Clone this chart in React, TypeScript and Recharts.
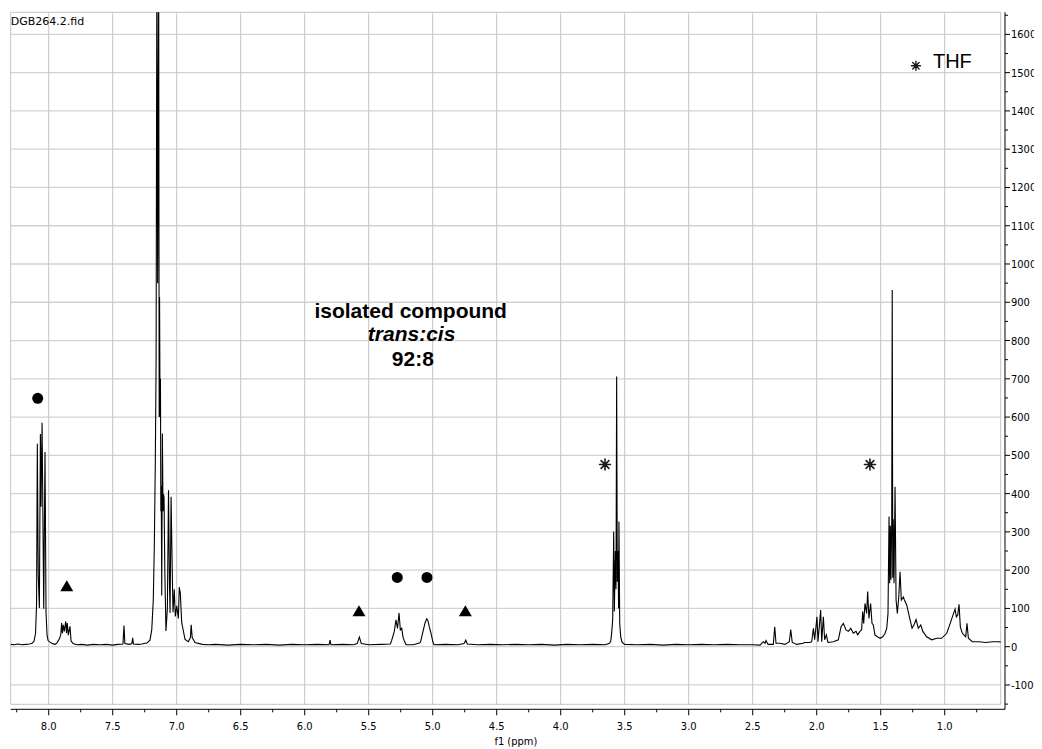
import React from 'react';
import { ComposedChart, Line, Scatter, XAxis, YAxis, ReferenceLine } from 'recharts';

// ---- spectrum (chemical shift in ppm, intensity) ----
const ppm = [
  8.297, 8.27, 8.24, 8.21, 8.18, 8.15, 8.13, 8.115, 8.103, 8.095, 8.089, 8.082, 8.073, 8.065, 8.06, 8.052, 8.039, 8.029, 8.021, 8.013,
  8.005, 7.99, 7.97, 7.95, 7.935, 7.918, 7.906, 7.899, 7.893, 7.886, 7.878, 7.867, 7.861, 7.855, 7.847, 7.834, 7.825, 7.81, 7.78, 7.74,
  7.7, 7.65, 7.6, 7.55, 7.5, 7.46, 7.42, 7.412, 7.405, 7.37, 7.35, 7.344, 7.338, 7.3, 7.27, 7.25, 7.234, 7.209, 7.195, 7.183,
  7.175, 7.167, 7.161, 7.155, 7.149, 7.141, 7.137, 7.134, 7.13, 7.127, 7.124, 7.121, 7.117, 7.112, 7.107, 7.103, 7.099, 7.093, 7.084, 7.073,
  7.064, 7.057, 7.052, 7.044, 7.035, 7.029, 7.019, 7.011, 7.0, 6.987, 6.98, 6.972, 6.961, 6.948, 6.935, 6.909, 6.893, 6.887, 6.879, 6.857,
  6.8, 6.75, 6.7, 6.6, 6.5, 6.4, 6.3, 6.2, 6.1, 6.0, 5.9, 5.81, 5.802, 5.795, 5.7, 5.62, 5.59, 5.573, 5.558, 5.5,
  5.4, 5.33, 5.32, 5.3, 5.287, 5.275, 5.263, 5.253, 5.242, 5.232, 5.224, 5.208, 5.15, 5.1, 5.094, 5.073, 5.06, 5.047, 5.039, 5.026,
  5.013, 5.0, 4.99, 4.9, 4.8, 4.755, 4.742, 4.73, 4.65, 4.55, 4.45, 4.35, 4.25, 4.15, 4.05, 3.95, 3.85, 3.75, 3.65, 3.62,
  3.609, 3.602, 3.594, 3.586, 3.581, 3.573, 3.568, 3.563, 3.558, 3.552, 3.548, 3.545, 3.539, 3.531, 3.521, 3.5, 3.4, 3.3, 3.2, 3.1,
  3.0, 2.9, 2.8, 2.7, 2.6, 2.5, 2.443, 2.417, 2.404, 2.396, 2.38, 2.339, 2.328, 2.318, 2.287, 2.248, 2.214, 2.203, 2.191, 2.156,
  2.105, 2.097, 2.052, 2.039, 2.026, 2.016, 1.998, 1.99, 1.969, 1.961, 1.948, 1.938, 1.925, 1.912, 1.87, 1.831, 1.81, 1.792, 1.771, 1.753,
  1.734, 1.714, 1.693, 1.68, 1.662, 1.649, 1.641, 1.633, 1.623, 1.61, 1.602, 1.592, 1.579, 1.568, 1.558, 1.545, 1.526, 1.505, 1.484, 1.466,
  1.453, 1.443, 1.435, 1.43, 1.425, 1.42, 1.414, 1.41, 1.406, 1.402, 1.396, 1.388, 1.38, 1.37, 1.359, 1.349, 1.339, 1.323, 1.315, 1.297,
  1.276, 1.255, 1.24, 1.224, 1.206, 1.187, 1.171, 1.141, 1.102, 1.063, 1.024, 0.984, 0.953, 0.935, 0.919, 0.909, 0.898, 0.888, 0.878, 0.862,
  0.836, 0.826, 0.815, 0.784, 0.732, 0.68, 0.628, 0.576, 0.5625,
];
const intensity = [
  6, 5, 7, 5, 6, 7, 9, 14, 35, 110, 530, 190, 101, 556, 366, 585, 99, 509, 90, 30,
  16, 12, 8, 6, 10, 20, 30, 62, 35, 57, 40, 66, 36, 62, 30, 53, 15, 8, 5, 6,
  4, 6, 5, 6, 4, 6, 7, 55, 8, 6, 8, 23, 7, 6, 7, 9, 9, 17, 44, 122,
  261, 488, 750, 1800, 950, 1800, 600, 914, 601, 700, 354, 420, 134, 557, 354, 398, 390, 200, 41, 100,
  409, 172, 88, 392, 200, 90, 150, 79, 107, 74, 156, 140, 63, 41, 19, 13, 24, 57, 24, 11,
  6, 5, 6, 4, 6, 5, 6, 4, 6, 5, 6, 5, 17, 5, 6, 5, 8, 25, 8, 5,
  6, 7, 17, 40, 70, 48, 88, 44, 48, 25, 17, 5, 5, 10, 14, 44, 62, 73, 70, 51,
  35, 14, 5, 6, 5, 8, 17, 7, 5, 6, 5, 6, 5, 6, 4, 6, 5, 6, 5, 9,
  14, 36, 70, 301, 92, 250, 150, 706, 170, 250, 100, 327, 60, 25, 12, 6, 5, 6, 4, 6,
  5, 6, 5, 6, 5, 5, 4, 13, 9, 16, 6, 6, 52, 9, 9, 6, 13, 45, 11, 6,
  9, 11, 11, 13, 48, 18, 78, 13, 96, 13, 78, 18, 31, 11, 13, 18, 52, 61, 44, 40,
  48, 35, 40, 31, 40, 44, 92, 61, 113, 87, 144, 74, 113, 61, 57, 31, 26, 22, 26, 35,
  48, 87, 340, 166, 316, 175, 325, 932, 180, 333, 166, 418, 122, 87, 130, 196, 122, 130, 122, 109,
  78, 48, 57, 71, 48, 57, 40, 26, 18, 22, 22, 35, 65, 83, 98, 78, 83, 111, 52, 35,
  26, 61, 22, 13, 13, 11, 13, 13, 12,
];
const spectrum = ppm.map((x, i) => ({ x, y: intensity[i] }));

// ---- axes ----
const xDomain = [0.529, 8.297];
const yDomain = [-163.6, 1657.7];
const frameX = [8.297, 0.5625];
const frameY = [-150.5, 1657.7];
const xTicks = [8.25, 8, 7.75, 7.5, 7.25, 7, 6.75, 6.5, 6.25, 6, 5.75, 5.5, 5.25, 5, 4.75, 4.5, 4.25, 4, 3.75, 3.5, 3.25, 3, 2.75, 2.5, 2.25, 2, 1.75, 1.5, 1.25, 1, 0.75];
const xMajor = [8, 7.5, 7, 6.5, 6, 5.5, 5, 4.5, 4, 3.5, 3, 2.5, 2, 1.5, 1];
const yTicks = [-150, -100, -50, 0, 50, 100, 150, 200, 250, 300, 350, 400, 450, 500, 550, 600, 650, 700, 750, 800, 850, 900, 950, 1000, 1050, 1100, 1150, 1200, 1250, 1300, 1350, 1400, 1450, 1500, 1550, 1600, 1650];
const yMajor = [-100, 0, 100, 200, 300, 400, 500, 600, 700, 800, 900, 1000, 1100, 1200, 1300, 1400, 1500, 1600];
const xAxisTitle = 'f1 (ppm)';

// ---- annotations ----
const circleMarks = [{ x: 8.086, y: 649 }, { x: 5.277, y: 181 }, { x: 5.045, y: 181 }];
const triangleMarks = [{ x: 7.859, y: 159 }, { x: 5.576, y: 94 }, { x: 4.745, y: 94 }];
const asteriskMarks = [{ x: 3.654, y: 476 }, { x: 1.584, y: 476 }];
const legendAsterisk = [{ x: 1.225, y: 1518 }];
const boldNotes = [{ x: 5.172, y: 860, label: 'isolated compound' }, { x: 5.155, y: 733, label: '92:8' }];
const italicNotes = [{ x: 5.165, y: 800, label: 'trans:cis' }];
const legendNotes = [{ x: 1.092, y: 1512, label: 'THF' }];
const fileNotes = [{ x: 8.297, y: 1624, label: 'DGB264.2.fid' }];

const TICK_FONT = '"DejaVu Sans Condensed", "DejaVu Sans", sans-serif';
const NOTE_FONT = '"Liberation Sans", Arial, sans-serif';

const XTick = (props: any) => {
  const { x, y, payload } = props;
  const v = payload.value;
  const major = xMajor.includes(v);
  return (
    <g>
      <line x1={x} x2={x} y1={y} y2={y + (major ? 6 : 3)} stroke="#000" strokeWidth={1} />
      {major && (
        <text x={x} y={y + 20.5} textAnchor="middle" fontFamily={TICK_FONT} fontSize={11} fill="#000">
          {v.toFixed(1)}
        </text>
      )}
    </g>
  );
};

const YTick = (props: any) => {
  const { x, y, payload } = props;
  const v = payload.value;
  const major = yMajor.includes(v);
  return (
    <g>
      <line x1={x} x2={x + (major ? 5 : 3)} y1={y} y2={y} stroke="#000" strokeWidth={1} />
      {major && (
        <text x={x + 6} y={y + 4} textAnchor="start" fontFamily={TICK_FONT} fontSize={11} fill="#000">
          {v}
        </text>
      )}
    </g>
  );
};

const XTitle = (props: any) => {
  const vb = props.viewBox || {};
  const cx = (vb.x || 0) + (vb.width || 0) / 2 + 8;
  const by = (vb.y || 0) + (vb.height || 0) - 4;
  return (
    <text x={cx} y={by} textAnchor="middle" fontFamily={TICK_FONT} fontSize={11} fill="#000">
      {xAxisTitle}
    </text>
  );
};

const starPath = (cx: number, cy: number, r: number) => {
  let d = '';
  for (let k = 0; k < 4; k++) {
    const a = (k * Math.PI) / 4;
    const dx = r * Math.cos(a);
    const dy = r * Math.sin(a);
    d += `M${cx - dx},${cy - dy}L${cx + dx},${cy + dy}`;
  }
  return d;
};

const CircleShape = (p: any) => <circle cx={p.cx} cy={p.cy} r={5.5} fill="#000" />;
const TriangleShape = (p: any) => (
  <polygon points={`${p.cx - 6.5},${p.cy + 5.5} ${p.cx + 6.5},${p.cy + 5.5} ${p.cx},${p.cy - 5.5}`} fill="#000" />
);
const AsteriskShape = (p: any) => (
  <path d={starPath(p.cx, p.cy, 5.5)} stroke="#1a1a1a" strokeWidth={1.6} strokeLinecap="round" fill="none" />
);
const SmallAsteriskShape = (p: any) => (
  <path d={starPath(p.cx, p.cy, 4.5)} stroke="#1a1a1a" strokeWidth={1.4} strokeLinecap="round" fill="none" />
);
const BoldShape = (p: any) => (
  <text x={p.cx} y={p.cy} textAnchor="middle" fontFamily={NOTE_FONT} fontWeight="bold" fontSize={21} fill="#000">
    {p.payload.label}
  </text>
);
const ItalicShape = (p: any) => (
  <text x={p.cx} y={p.cy} textAnchor="middle" fontFamily={NOTE_FONT} fontWeight="bold" fontStyle="italic" fontSize={21} fill="#000">
    {p.payload.label}
  </text>
);
const LegendShape = (p: any) => (
  <text x={p.cx} y={p.cy} textAnchor="start" fontFamily={NOTE_FONT} fontSize={20} fill="#000">
    {p.payload.label}
  </text>
);
const FileShape = (p: any) => (
  <text x={p.cx} y={p.cy} textAnchor="start" fontFamily='"DejaVu Sans", sans-serif' fontSize={11} fill="#000">
    {p.payload.label}
  </text>
);

const GRID_V = '#c4c4c4';
const GRID_H = '#d2d2d2';

export default function App() {
  return (
    <div style={{ width: 1034, height: 741 }}>
      <ComposedChart width={1034} height={741} data={spectrum} margin={{ top: 4.3, right: 0, bottom: 0, left: 2.7 }}>
        <XAxis
          dataKey="x"
          type="number"
          domain={xDomain}
          reversed
          allowDataOverflow
          ticks={xTicks}
          interval={0}
          tick={<XTick />}
          tickLine={false}
          tickSize={0}
          tickMargin={0}
          axisLine={{ stroke: '#000', strokeWidth: 1 }}
          height={39.7}
          label={<XTitle />}
        />
        <YAxis
          dataKey="y"
          type="number"
          orientation="right"
          domain={yDomain}
          allowDataOverflow
          ticks={yTicks}
          interval={0}
          tick={<YTick />}
          tickLine={false}
          tickSize={0}
          tickMargin={0}
          axisLine={{ stroke: '#000', strokeWidth: 1 }}
          width={37}
        />
        {yMajor.map((v) => (
          <ReferenceLine key={'h' + v} segment={[{ x: frameX[0], y: v }, { x: frameX[1], y: v }]} stroke={GRID_H} strokeWidth={1.3} />
        ))}
        {xMajor.map((v) => (
          <ReferenceLine key={'v' + v} segment={[{ x: v, y: frameY[0] }, { x: v, y: frameY[1] }]} stroke={GRID_V} strokeWidth={1} />
        ))}
        <ReferenceLine segment={[{ x: frameX[0], y: frameY[0] }, { x: frameX[0], y: frameY[1] }]} stroke={GRID_V} />
        <ReferenceLine segment={[{ x: frameX[1], y: frameY[0] }, { x: frameX[1], y: frameY[1] }]} stroke={GRID_V} />
        <ReferenceLine segment={[{ x: frameX[0], y: frameY[0] }, { x: frameX[1], y: frameY[0] }]} stroke={GRID_V} />
        <ReferenceLine segment={[{ x: frameX[0], y: frameY[1] }, { x: frameX[1], y: frameY[1] }]} stroke={GRID_V} />
        <Line type="linear" dataKey="y" stroke="#000" strokeWidth={1.1} dot={false} activeDot={false} isAnimationActive={false} />
        <Scatter data={circleMarks} dataKey="y" shape={CircleShape} isAnimationActive={false} />
        <Scatter data={triangleMarks} dataKey="y" shape={TriangleShape} isAnimationActive={false} />
        <Scatter data={asteriskMarks} dataKey="y" shape={AsteriskShape} isAnimationActive={false} />
        <Scatter data={legendAsterisk} dataKey="y" shape={SmallAsteriskShape} isAnimationActive={false} />
        <Scatter data={boldNotes} dataKey="y" shape={BoldShape} isAnimationActive={false} />
        <Scatter data={italicNotes} dataKey="y" shape={ItalicShape} isAnimationActive={false} />
        <Scatter data={legendNotes} dataKey="y" shape={LegendShape} isAnimationActive={false} />
        <Scatter data={fileNotes} dataKey="y" shape={FileShape} isAnimationActive={false} />
      </ComposedChart>
    </div>
  );
}
